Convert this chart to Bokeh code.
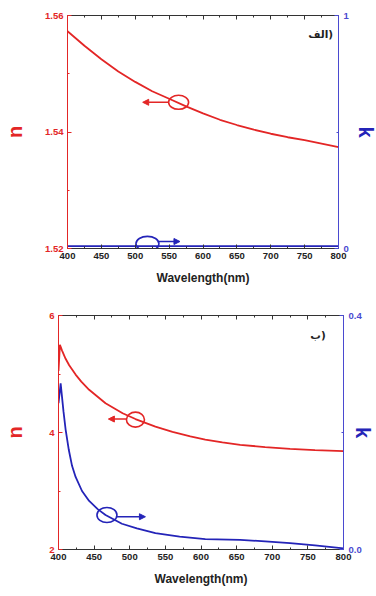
from bokeh.plotting import figure
from bokeh.models import Range1d, LinearAxis, FixedTicker, Arrow, NormalHead, Label
from bokeh.layouts import column, row
from bokeh.embed import file_html
from bokeh.resources import INLINE

RED = "#e32626"
BLUE = "#2424b8"
BLUE_AX = "#4a4ad0"
GRAY = "#333333"

# ---- data: top panel (الف) ----
top_wl = [400, 425, 450, 475, 500, 525, 550, 575, 600, 625, 650, 675, 700, 725, 750, 775, 800]
top_n = [1.5573, 1.5548, 1.5525, 1.5504, 1.5486, 1.5470, 1.5457, 1.5444, 1.5432,
         1.5421, 1.5412, 1.5404, 1.5397, 1.5391, 1.5386, 1.5380, 1.5374]
top_k = [0.01, 0.01, 0.01, 0.01, 0.01, 0.01, 0.01, 0.01, 0.01,
         0.01, 0.01, 0.01, 0.01, 0.01, 0.01, 0.01, 0.01]

# ---- data: bottom panel (ب) ----
bot_wl_n = [400, 402, 405, 410, 415, 424, 432, 443, 466, 490, 508, 536, 560, 585, 606,
            630, 655, 690, 725, 760, 800]
bot_n = [5.05, 5.50, 5.40, 5.26, 5.15, 4.99, 4.87, 4.73, 4.50, 4.33, 4.23, 4.10, 4.01, 3.935,
         3.88, 3.83, 3.79, 3.75, 3.72, 3.70, 3.68]
bot_wl_k = [400, 403, 407, 410, 414.5, 419, 424, 433, 443, 455, 466, 489, 510, 536, 570,
            606, 655, 690, 725, 760, 800]
bot_k = [0.25, 0.284, 0.236, 0.205, 0.17, 0.143, 0.124, 0.10, 0.083, 0.069, 0.059, 0.044,
         0.036, 0.028, 0.022, 0.0178, 0.0163, 0.014, 0.011, 0.007, 0.002]

x_ticks = [400, 450, 500, 550, 600, 650, 700, 750, 800]
x_minor = [425, 475, 525, 575, 625, 675, 725, 775]

# annotations: (circle x, circle y, width px, height px, arrow start x, arrow end x, arrow y)
top_n_mark = (564, 1.5451, 20, 14, 549, 511, 1.5451)
top_k_mark = (518, 0.020, 23, 15, 535, 566, 0.030)
bot_n_mark = (508, 4.22, 18, 15, 495, 470, 4.23)
bot_k_mark = (468, 0.059, 20, 15, 482, 522, 0.056)

FONT = "Liberation Sans"


def style_axis(ax, color, label_color=None):
    ax.axis_line_color = color
    ax.major_tick_line_color = color
    ax.minor_tick_line_color = color
    ax.major_tick_in = 4
    ax.major_tick_out = 0
    ax.minor_tick_in = 2
    ax.minor_tick_out = 0
    ax.major_label_text_font = FONT
    ax.major_label_text_font_size = "9.5px"
    ax.major_label_text_font_style = "bold"
    ax.major_label_text_color = label_color or color
    ax.major_label_standoff = 4


def make_panel(yrange, krange, yticks, yminor, kticks, kminor, klabels, frame, borders,
               label_text, label_pos, n_standoff, k_standoff):
    p = figure(frame_width=frame[0], frame_height=frame[1], x_range=Range1d(400, 800),
               y_range=Range1d(*yrange), output_backend="svg", toolbar_location=None,
               min_border_left=borders[0], min_border_right=borders[1],
               min_border_top=borders[2], min_border_bottom=borders[3])
    p.grid.visible = False
    p.outline_line_color = None
    p.extra_y_ranges = {"k": Range1d(*krange)}

    xa = p.xaxis[0]
    style_axis(xa, GRAY, "#222222")
    xa.ticker = FixedTicker(ticks=x_ticks, minor_ticks=x_minor)
    xa.major_label_standoff = 4
    xa.axis_label = "Wavelength(nm)"
    xa.axis_label_text_font = FONT
    xa.axis_label_text_font_size = "12px"
    xa.axis_label_text_font_style = "bold"
    xa.axis_label_text_color = "#222222"
    xa.axis_label_standoff = 9

    ya = p.yaxis[0]
    style_axis(ya, RED)
    ya.ticker = FixedTicker(ticks=yticks, minor_ticks=yminor)
    ya.axis_label = "n"
    ya.axis_label_text_font = FONT
    ya.axis_label_text_font_size = "20px"
    ya.axis_label_text_font_style = "bold"
    ya.axis_label_text_color = RED
    ya.axis_label_standoff = n_standoff

    ka = LinearAxis(y_range_name="k")
    style_axis(ka, BLUE_AX)
    ka.ticker = FixedTicker(ticks=kticks, minor_ticks=kminor)
    ka.major_label_overrides = klabels
    ka.major_label_standoff = 5
    ka.axis_label = "k"
    ka.axis_label_text_font = FONT
    ka.axis_label_text_font_size = "20px"
    ka.axis_label_text_font_style = "bold"
    ka.axis_label_text_color = BLUE
    ka.axis_label_standoff = k_standoff
    p.add_layout(ka, "right")

    ta = LinearAxis()
    style_axis(ta, GRAY)
    ta.ticker = FixedTicker(ticks=x_ticks, minor_ticks=x_minor)
    ta.major_label_text_font_size = "1px"
    ta.major_label_text_color = None
    ta.major_label_standoff = 0
    p.add_layout(ta, "above")

    p.add_layout(Label(x=label_pos[0], y=label_pos[1], text=label_text, text_align="right",
                       text_baseline="middle", text_font="DejaVu Sans", text_font_size="10.5px",
                       text_font_style="bold", text_color="#222222"))
    return p


def add_mark(p, mark, color, range_name="default"):
    cx, cy, w, h, ax0, ax1, ay = mark
    p.ellipse(x=[cx], y=[cy], width=w, height=h, width_units="screen", height_units="screen",
              fill_color=None, line_color=color, line_width=1.6, y_range_name=range_name)
    p.add_layout(Arrow(end=NormalHead(size=6, fill_color=color, line_color=color),
                       x_start=ax0, y_start=ay, x_end=ax1, y_end=ay,
                       line_color=color, line_width=1.6, y_range_name=range_name))


p1 = make_panel((1.52, 1.56), (0, 1), [1.52, 1.54, 1.56], [1.53, 1.55], [0, 1], [0.5],
                {0: "0", 1: "1"}, (271, 233), (67, 22, 15, 50), "الف)", (792, 1.5569), 16, 3)
p1.line(top_wl, top_n, line_color=RED, line_width=1.8)
p1.line(top_wl, top_k, line_color=BLUE, line_width=1.8, y_range_name="k")
add_mark(p1, top_n_mark, RED)
add_mark(p1, top_k_mark, BLUE, "k")

p2 = make_panel((2, 6), (0, 0.4), [2, 4, 6], [3, 5], [0, 0.4], [0.2],
                {0: "0.0", 0.4: "0.4"}, (285, 234), (58, 17, 17, 40), "ب)", (775, 5.675), 20, -13)
p2.yaxis[0].formatter.precision = 0
p2.line(bot_wl_n, bot_n, line_color=RED, line_width=1.8)
p2.line(bot_wl_k, bot_k, line_color=BLUE, line_width=1.8, y_range_name="k")
add_mark(p2, bot_n_mark, RED)
add_mark(p2, bot_k_mark, BLUE, "k")

layout = column(row(p1), row(p2), spacing=0)
open("out.html", "w").write(file_html(layout, INLINE))
